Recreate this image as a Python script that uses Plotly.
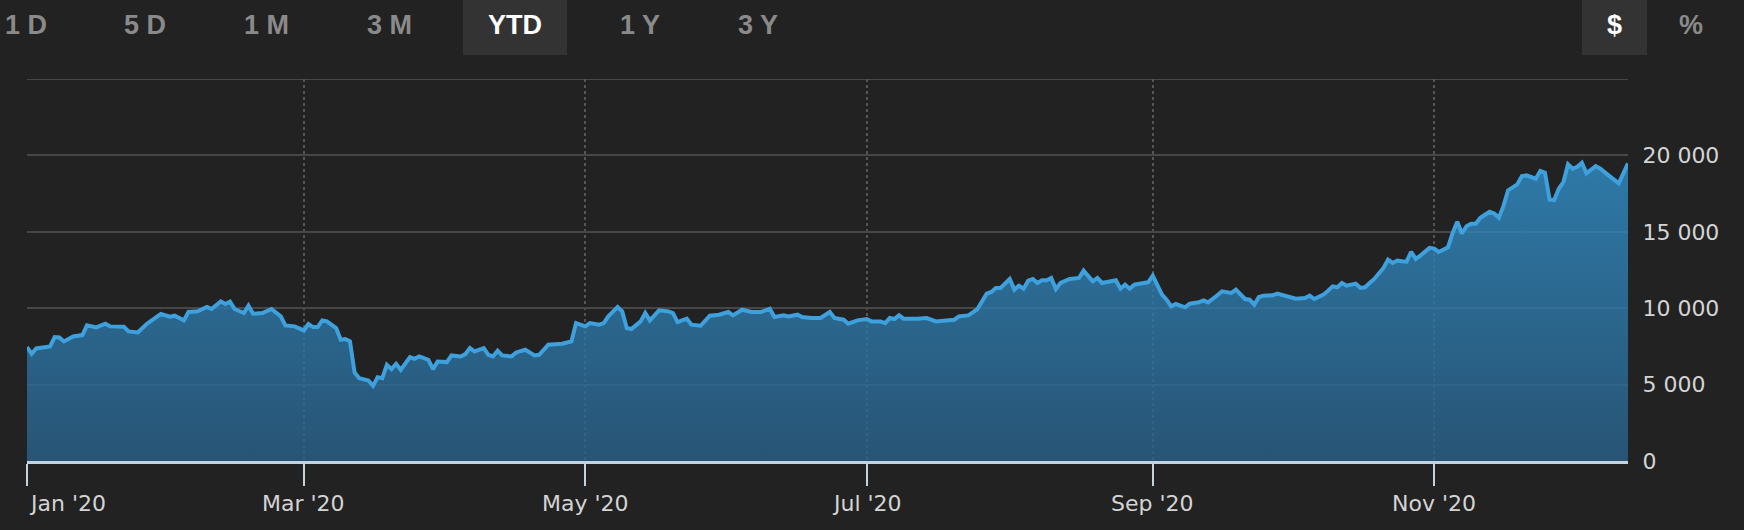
import plotly.graph_objects as go

# ---------------- data ----------------
dates = [
    "2020-01-01", "2020-01-02", "2020-01-03", "2020-01-06", "2020-01-07", "2020-01-08", "2020-01-09",
    "2020-01-11", "2020-01-13", "2020-01-14", "2020-01-16", "2020-01-18", "2020-01-19", "2020-01-22",
    "2020-01-23", "2020-01-25", "2020-01-27", "2020-01-28", "2020-01-30",
    "2020-02-01", "2020-02-02", "2020-02-04", "2020-02-05", "2020-02-07", "2020-02-09", "2020-02-10",
    "2020-02-12", "2020-02-13", "2020-02-14", "2020-02-15", "2020-02-17", "2020-02-18", "2020-02-19",
    "2020-02-21", "2020-02-23", "2020-02-25", "2020-02-26", "2020-02-28",
    "2020-03-01", "2020-03-02", "2020-03-03", "2020-03-04", "2020-03-05", "2020-03-06", "2020-03-08",
    "2020-03-09", "2020-03-10", "2020-03-11", "2020-03-12", "2020-03-13", "2020-03-15", "2020-03-16",
    "2020-03-17", "2020-03-18", "2020-03-19", "2020-03-20", "2020-03-21", "2020-03-22", "2020-03-24",
    "2020-03-25", "2020-03-26", "2020-03-28", "2020-03-29", "2020-03-30",
    "2020-04-01", "2020-04-02", "2020-04-04", "2020-04-05", "2020-04-06", "2020-04-07", "2020-04-09",
    "2020-04-10", "2020-04-11", "2020-04-12", "2020-04-13", "2020-04-15", "2020-04-16", "2020-04-18",
    "2020-04-20", "2020-04-21", "2020-04-23", "2020-04-26", "2020-04-28", "2020-04-29",
    "2020-05-01", "2020-05-02", "2020-05-04", "2020-05-05", "2020-05-06", "2020-05-08", "2020-05-09",
    "2020-05-10", "2020-05-11", "2020-05-13", "2020-05-14", "2020-05-15", "2020-05-17", "2020-05-19",
    "2020-05-20", "2020-05-21", "2020-05-23", "2020-05-24", "2020-05-26", "2020-05-28", "2020-05-30",
    "2020-06-01", "2020-06-02", "2020-06-04", "2020-06-06", "2020-06-08", "2020-06-10", "2020-06-11",
    "2020-06-13", "2020-06-14", "2020-06-16", "2020-06-17", "2020-06-19", "2020-06-21", "2020-06-23",
    "2020-06-24", "2020-06-26", "2020-06-27", "2020-06-29",
    "2020-07-01", "2020-07-02", "2020-07-04", "2020-07-05", "2020-07-06", "2020-07-07", "2020-07-08",
    "2020-07-09", "2020-07-12", "2020-07-14", "2020-07-16", "2020-07-18", "2020-07-20", "2020-07-21",
    "2020-07-23", "2020-07-24", "2020-07-25", "2020-07-27", "2020-07-28", "2020-07-29", "2020-07-30",
    "2020-08-01", "2020-08-02", "2020-08-03", "2020-08-04", "2020-08-05", "2020-08-06", "2020-08-07",
    "2020-08-08", "2020-08-09", "2020-08-10", "2020-08-11", "2020-08-12", "2020-08-14", "2020-08-16",
    "2020-08-17", "2020-08-19", "2020-08-20", "2020-08-21", "2020-08-24", "2020-08-25", "2020-08-26",
    "2020-08-27", "2020-08-28", "2020-08-31",
    "2020-09-01", "2020-09-02", "2020-09-03", "2020-09-04", "2020-09-05", "2020-09-06", "2020-09-08",
    "2020-09-09", "2020-09-11", "2020-09-12", "2020-09-13", "2020-09-15", "2020-09-16", "2020-09-18",
    "2020-09-19", "2020-09-21", "2020-09-22", "2020-09-23", "2020-09-24", "2020-09-25", "2020-09-27",
    "2020-09-28", "2020-09-30",
    "2020-10-02", "2020-10-04", "2020-10-05", "2020-10-06", "2020-10-08", "2020-10-09", "2020-10-10",
    "2020-10-11", "2020-10-12", "2020-10-13", "2020-10-15", "2020-10-16", "2020-10-17", "2020-10-18",
    "2020-10-19", "2020-10-21", "2020-10-22", "2020-10-23", "2020-10-24", "2020-10-25", "2020-10-26",
    "2020-10-27", "2020-10-28", "2020-10-29", "2020-10-30", "2020-10-31",
    "2020-11-01", "2020-11-02", "2020-11-04", "2020-11-05", "2020-11-06", "2020-11-07", "2020-11-08",
    "2020-11-09", "2020-11-10", "2020-11-11", "2020-11-13", "2020-11-14", "2020-11-15", "2020-11-16",
    "2020-11-17", "2020-11-18", "2020-11-19", "2020-11-20", "2020-11-21", "2020-11-23", "2020-11-24",
    "2020-11-25", "2020-11-26", "2020-11-27", "2020-11-28", "2020-11-29", "2020-11-30",
    "2020-12-01", "2020-12-02", "2020-12-03", "2020-12-04", "2020-12-06", "2020-12-07", "2020-12-09",
    "2020-12-11", "2020-12-13",
]

values = [
    7454, 7017, 7367, 7498, 8110, 8088, 7826, 8154, 8241, 8875, 8744, 8984, 8810, 8788, 8482, 8416,
    8984, 9181, 9618,
    9443, 9509, 9203, 9749, 9793, 10077, 9946, 10449, 10274, 10427, 9946, 9684, 10165, 9640, 9684,
    9946, 9465, 8875, 8810,
    8547, 8963, 8766, 8766, 9203, 9137, 8700, 7935, 7979, 7826, 5793, 5421, 5268, 4918, 5487, 5421,
    6296, 6011, 6361, 5968, 6798, 6689, 6842, 6624, 6011, 6514,
    6471, 6908, 6842, 6995, 7389, 7170, 7389, 6951, 6842, 7214, 6908, 6842, 7105, 7280, 6908, 6951,
    7608, 7673, 7826, 9028,
    8810, 9028, 8919, 9028, 9465, 10077, 9793, 8700, 8635, 9137, 9684, 9203, 9859, 9793, 9684, 9094,
    9312, 8919, 8853, 9509, 9575,
    9749, 9531, 9902, 9749, 9749, 9968, 9422, 9531, 9465, 9575, 9422, 9356, 9356, 9749, 9356, 9247,
    8984, 9203,
    9290, 9137, 9137, 9028, 9356, 9290, 9531, 9312, 9312, 9356, 9137, 9203, 9247, 9465, 9531, 9728,
    9946, 10952, 11061, 11323, 11323,
    11914, 11214, 11477, 11280, 11804, 11914, 11652, 11826, 11826, 11979, 11258, 11652, 11914, 11979,
    12460, 11761, 11979, 11652, 11826, 11280, 11542, 11280, 11542, 11695,
    12132, 11432, 10886, 10558, 10121, 10274, 10056, 10296, 10384, 10515, 10384, 10843, 11105, 10995,
    11214, 10602, 10558, 10230, 10733, 10821, 10843, 10952, 10821,
    10624, 10668, 10821, 10602, 10886, 11149, 11432, 11367, 11652, 11477, 11608, 11323, 11367, 11652,
    11914, 12635, 13182, 12963, 13116, 13072, 13050, 13684, 13225, 13444, 13728, 13947,
    13903, 13684, 13990, 14930, 15652, 14887, 15368, 15521, 15521, 15914, 16308, 16198, 15914, 16679,
    17707, 17881, 18100, 18647, 18690, 18472, 18975, 18866, 17117, 17073, 17816, 18253, 19412,
    19128, 19259, 19521, 18822, 19303, 19128, 18647, 18166, 19477,
]

x_tick_dates = ["2020-01-01", "2020-03-01", "2020-05-01", "2020-07-01", "2020-09-01", "2020-11-01"]
x_tick_labels = ["Jan '20", "Mar '20", "May '20", "Jul '20", "Sep '20", "Nov '20"]
y_tick_vals = [0, 5000, 10000, 15000, 20000, 25000]
y_tick_text = ["0", "5 000", "10 000", "15 000", "20 000", ""]
y_max = 25000

range_buttons = ["1 D", "5 D", "1 M", "3 M", "YTD", "1 Y", "3 Y"]
selected_range = "YTD"
unit_buttons = ["$", "%"]
selected_unit = "$"

# ---------------- styling ----------------
W, H = 1744, 530
ML, MR, MT, MB = 27, 116, 79, 69
PW = W - ML - MR
PH = H - MT - MB

BG = "#222222"
LINE = "#3ea1dd"
GRID = "#474747"
AXIS = "#c5d3dd"
LABEL = "#d4d4d4"
BTN_BG = "#333333"
BTN_OFF = "#8a8a8a"


def px_x(px):
    return (px - ML) / PW


def px_y(py):
    return (H - MB - py) / PH


fig = go.Figure()
fig.add_trace(go.Scatter(
    x=dates, y=values, mode="lines",
    line=dict(color=LINE, width=4),
    fill="tozeroy",
    fillgradient=dict(
        type="vertical",
        colorscale=[[0, "rgba(41,97,138,0.8)"], [1, "rgba(49,144,202,0.8)"]],
        start=0, stop=20000,
    ),
    hoverinfo="skip",
    showlegend=False,
))

annotations = []
for d, lab in zip(x_tick_dates, x_tick_labels):
    annotations.append(dict(
        x=d, xref="x", y=0, yref="paper", yshift=-42,
        text=lab, showarrow=False,
        xanchor="left" if d == x_tick_dates[0] else "center", yanchor="middle",
        font=dict(family="DejaVu Sans", size=22, color=LABEL),
    ))

shapes = [
    # top grid line at the edge of the plot area
    dict(type="line", xref="paper", yref="y", x0=0, x1=1, y0=y_max, y1=y_max,
         line=dict(color=GRID, width=2), layer="below"),
]
# range selector buttons
btn_centers = [26, 145, 266, 389, 515, 640, 758]
for cx, lab in zip(btn_centers, range_buttons):
    sel = lab == selected_range
    if sel:
        shapes.append(dict(type="rect", xref="paper", yref="paper",
                           x0=px_x(463), x1=px_x(567), y0=px_y(55), y1=px_y(0),
                           fillcolor=BTN_BG, line=dict(width=0), layer="below"))
    annotations.append(dict(
        x=px_x(cx), xref="paper", y=px_y(25), yref="paper",
        text=lab, showarrow=False, xanchor="center", yanchor="middle",
        font=dict(family="Liberation Sans", size=27, weight="bold",
                  color="#ffffff" if sel else BTN_OFF),
    ))

unit_centers = [1614, 1691]
for cx, lab in zip(unit_centers, unit_buttons):
    sel = lab == selected_unit
    if sel:
        shapes.append(dict(type="rect", xref="paper", yref="paper",
                           x0=px_x(1582), x1=px_x(1647), y0=px_y(55), y1=px_y(0),
                           fillcolor=BTN_BG, line=dict(width=0), layer="below"))
    annotations.append(dict(
        x=px_x(cx), xref="paper", y=px_y(25), yref="paper",
        text=lab, showarrow=False, xanchor="center", yanchor="middle",
        font=dict(family="Liberation Sans", size=27, weight="bold",
                  color="#ffffff" if sel else BTN_OFF),
    ))

fig.update_layout(
    width=W, height=H,
    margin=dict(l=ML, r=MR, t=MT, b=MB, pad=0),
    paper_bgcolor=BG, plot_bgcolor=BG,
    showlegend=False,
    annotations=annotations,
    shapes=shapes,
    xaxis=dict(
        type="date",
        range=[dates[0], dates[-1]],
        tickmode="array", tickvals=x_tick_dates,
        showticklabels=False,
        ticks="outside", ticklen=22, tickwidth=2, tickcolor=AXIS,
        showgrid=True, gridcolor="#555555", griddash="dot", gridwidth=1.5,
        showline=True, linecolor=AXIS, linewidth=2.5,
        zeroline=False,
    ),
    yaxis=dict(
        side="right",
        range=[0, y_max],
        tickmode="array", tickvals=y_tick_vals, ticktext=y_tick_text,
        ticks="outside", ticklen=9, tickcolor="rgba(0,0,0,0)",
        tickfont=dict(family="DejaVu Sans", size=22, color=LABEL),
        showgrid=True, gridcolor=GRID, gridwidth=2,
        showline=False, zeroline=False,
    ),
)

fig.write_html(
    "out.html",
    config={"displayModeBar": False},
    post_script="document.body.style.margin='0';document.body.style.background='#222222';",
)
